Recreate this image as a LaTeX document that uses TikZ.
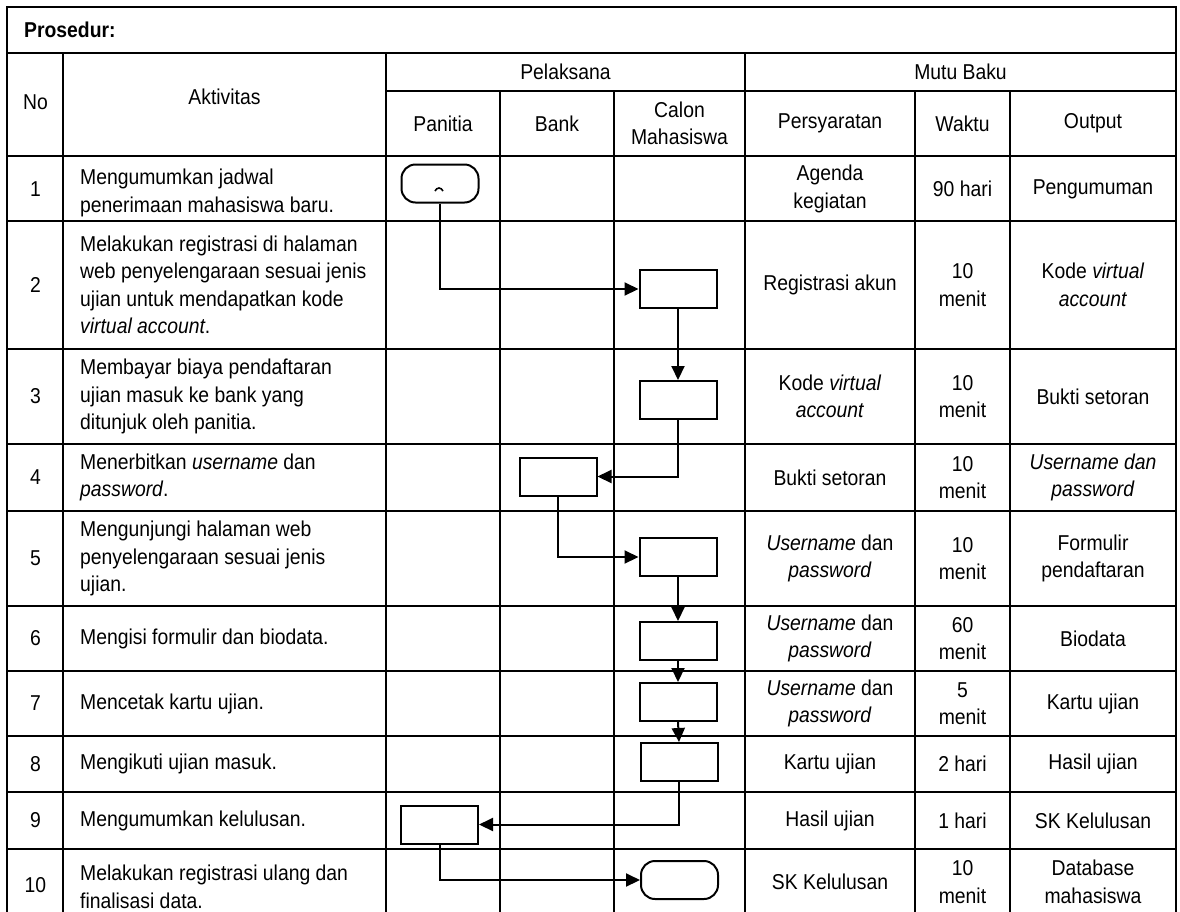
\documentclass[tikz,border=0pt]{standalone}
\usepackage{fontspec}
\setmainfont[FakeStretch=0.9]{Liberation Sans}
\usetikzlibrary{arrows.meta}
\begin{document}
\begin{tikzpicture}[x=1pt,y=-1pt,
  tline/.style={line width=2pt, line cap=rect},
  tcell/.style={inner sep=0pt, align=center, font=\fontsize{21.5pt}{27.5pt}\selectfont},
  act/.style={tcell, anchor=west, align=left},
  proc/.style={draw, line width=2pt, minimum width=77pt, minimum height=38pt, inner sep=0pt},
  term/.style={proc, rounded corners=14pt},
  flow/.style={line width=2pt, -{Triangle[length=14pt,width=13pt]}}]
\useasboundingbox (0,0) rectangle (1180,911);
% ---- table grid ----
\draw[tline] (7,7) -- (1176,7);
\draw[tline] (7,53) -- (1176,53);
\draw[tline] (386,91) -- (1176,91);
\foreach \yy in {156,221,349,444,511,606,671,736,792,849}
  \draw[tline] (7,\yy) -- (1176,\yy);
\draw[tline] (7,7) -- (7,915);
\draw[tline] (1176,7) -- (1176,915);
\foreach \xx in {63,386,745}
  \draw[tline] (\xx,53) -- (\xx,915);
\foreach \xx in {500,614,915,1010}
  \draw[tline] (\xx,91) -- (\xx,915);
% ---- header ----
\node[tcell, anchor=west] (pros) at (24,30) {\bfseries Prosedur:};
\node[tcell] (hno) at (35.5,102) {No};
\node[tcell] (hakt) at (224.5,97) {Aktivitas};
\node[tcell] (hpel) at (565.5,72) {Pelaksana};
\node[tcell] (hmutu) at (960.5,72) {Mutu Baku};
\node[tcell] (hpan) at (443,123.5) {Panitia};
\node[tcell] (hbank) at (557,123.5) {Bank};
\node[tcell] (hcalon) at (679.5,123.5) {Calon\\Mahasiswa};
\node[tcell] (hpers) at (830,123.5) {Persyaratan};
\node[tcell] (hwaktu) at (962.5,123.5) {Waktu};
\node[tcell] (hout) at (1093,123.5) {Output};
% ---- row 1 ----
\node[tcell] (n1) at (35.5,189) {1};
\node[act] (a1) at (80,193) {Mengumumkan jadwal\\penerimaan mahasiswa baru.};
\node[tcell] (p1) at (830,189) {Agenda\\kegiatan};
\node[tcell] (w1) at (962.5,189) {90 hari};
\node[tcell] (o1) at (1093,189) {Pengumuman};
% ---- row 2 ----
\node[tcell] (n2) at (35.5,285) {2};
\node[act] (a2) at (80,285) {Melakukan registrasi di halaman\\web penyelengaraan sesuai jenis\\ujian untuk mendapatkan kode\\\textit{virtual account}.};
\node[tcell] (p2) at (830,285) {Registrasi akun};
\node[tcell] (w2) at (962.5,285) {10\\menit};
\node[tcell] (o2) at (1093,285) {Kode \textit{virtual}\\\textit{account}};
% ---- row 3 ----
\node[tcell] (n3) at (35.5,396.5) {3};
\node[act] (a3) at (80,396.5) {Membayar biaya pendaftaran\\ujian masuk ke bank yang\\ditunjuk oleh panitia.};
\node[tcell] (p3) at (830,396.5) {Kode \textit{virtual}\\\textit{account}};
\node[tcell] (w3) at (962.5,396.5) {10\\menit};
\node[tcell] (o3) at (1093,396.5) {Bukti setoran};
% ---- row 4 ----
\node[tcell] (n4) at (35.5,477.5) {4};
\node[act] (a4) at (80,477.5) {Menerbitkan \textit{username} dan\\\textit{password}.};
\node[tcell] (p4) at (830,477.5) {Bukti setoran};
\node[tcell] (w4) at (962.5,477.5) {10\\menit};
\node[tcell] (o4) at (1093,477.5) {\textit{Username dan}\\\textit{password}};
% ---- row 5 ----
\node[tcell] (n5) at (35.5,558.5) {5};
\node[act] (a5) at (80,558.5) {Mengunjungi halaman web\\penyelengaraan sesuai jenis\\ujian.};
\node[tcell] (p5) at (830,558.5) {\textit{Username} dan\\\textit{password}};
\node[tcell] (w5) at (962.5,558.5) {10\\menit};
\node[tcell] (o5) at (1093,558.5) {Formulir\\pendaftaran};
% ---- row 6 ----
\node[tcell] (n6) at (35.5,638.5) {6};
\node[act] (a6) at (80,638.5) {Mengisi formulir dan biodata.};
\node[tcell] (p6) at (830,638.5) {\textit{Username} dan\\\textit{password}};
\node[tcell] (w6) at (962.5,638.5) {60\\menit};
\node[tcell] (o6) at (1093,638.5) {Biodata};
% ---- row 7 ----
\node[tcell] (n7) at (35.5,703.5) {7};
\node[act] (a7) at (80,703.5) {Mencetak kartu ujian.};
\node[tcell] (p7) at (830,703.5) {\textit{Username} dan\\\textit{password}};
\node[tcell] (w7) at (962.5,703.5) {5\\menit};
\node[tcell] (o7) at (1093,703.5) {Kartu ujian};
% ---- row 8 ----
\node[tcell] (n8) at (35.5,764) {8};
\node[act] (a8) at (80,764) {Mengikuti ujian masuk.};
\node[tcell] (p8) at (830,764) {Kartu ujian};
\node[tcell] (w8) at (962.5,764) {2 hari};
\node[tcell] (o8) at (1093,764) {Hasil ujian};
% ---- row 9 ----
\node[tcell] (n9) at (35.5,820.5) {9};
\node[act] (a9) at (80,820.5) {Mengumumkan kelulusan.};
\node[tcell] (p9) at (830,820.5) {Hasil ujian};
\node[tcell] (w9) at (962.5,820.5) {1 hari};
\node[tcell] (o9) at (1093,820.5) {SK Kelulusan};
% ---- row 10 ----
\node[tcell] (n10) at (35.5,885) {10};
\node[act] (a10) at (80,887) {Melakukan registrasi ulang dan\\finalisasi data.};
\node[tcell] (p10) at (830,882) {SK Kelulusan};
\node[tcell] (w10) at (962.5,882) {10\\menit};
\node[tcell] (o10) at (1093,882) {Database\\mahasiswa};
% ---- flowchart ----
\node[term] (s1) at (440,183.5) {};
\node[proc] (b2) at (678,289) {};
\node[proc] (b3) at (678,400) {};
\node[proc] (b4) at (558,476.5) {};
\node[proc] (b5) at (678,557) {};
\node[proc] (b6) at (678,641) {};
\node[proc] (b7) at (678,702) {};
\node[proc] (b8) at (679,762) {};
\node[proc] (b9) at (439.5,824.5) {};
\node[term] (e10) at (679.5,880) {};
\draw[line width=1.6pt] (435,191) .. controls (437,187) and (441,187) .. (443,191);
\draw[flow] (s1.south) |- (b2.west);
\draw[flow] (b2.south) -- (b3.north);
\draw[flow] (b3.south) |- (b4.east);
\draw[flow] (b4.south) |- (b5.west);
\draw[flow] (b5.south) -- (b6.north);
\draw[flow] (b6.south) -- (b7.north);
\draw[flow] (b7.south) -- (b8.south |- b8.north);
\draw[flow] (b8.south) |- (b9.east);
\draw[flow] (b9.south) |- (e10.west);
\end{tikzpicture}
\end{document}
